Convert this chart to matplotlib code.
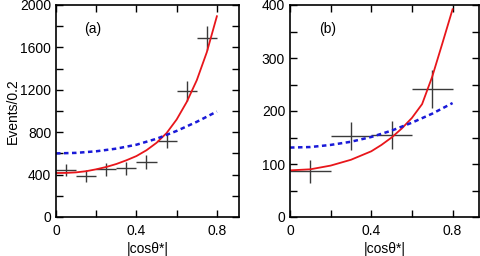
import numpy as np
import matplotlib.pyplot as plt
from matplotlib.ticker import MultipleLocator

plt.rcParams['font.family'] = ['Liberation Sans', 'DejaVu Sans']

# panel (a): data points
a_x = [0.05, 0.15, 0.25, 0.35, 0.45, 0.55, 0.65, 0.75]
a_y = [443, 387, 450, 459, 518, 720, 1188, 1691]
a_yerr = [57, 53, 60, 60, 63, 70, 94, 115]
a_xerr = 0.05
# panel (a): fitted curves
a_red_x = [0.0, 0.05, 0.1, 0.15, 0.2, 0.25, 0.3, 0.35, 0.4, 0.45,
           0.5, 0.55, 0.6, 0.65, 0.7, 0.75, 0.8]
a_red_y = [415, 416, 421, 432, 450, 472, 500, 535, 575, 630,
           700, 792, 920, 1085, 1290, 1555, 1894]
a_blue_x = [0.0, 0.1, 0.2, 0.3, 0.4, 0.5, 0.6, 0.7, 0.8]
a_blue_y = [600, 605, 620, 645, 682, 738, 812, 898, 995]

# panel (b): data points
b_x = [0.1, 0.3, 0.5, 0.7]
b_y = [86, 153, 155, 241]
b_yerr = [21, 27, 27, 36]
b_xerr = 0.1
b_red_x = [0.0, 0.1, 0.2, 0.3, 0.4, 0.45, 0.5, 0.55, 0.6, 0.65, 0.7, 0.75, 0.8]
b_red_y = [88, 90, 97, 108, 124, 136, 150, 167, 187, 213, 265, 328, 392]
b_blue_x = [0.0, 0.1, 0.2, 0.3, 0.4, 0.5, 0.6, 0.7, 0.8]
b_blue_y = [131, 132, 136, 142, 151, 163, 178, 195, 215]

fig = plt.figure(figsize=(4.8, 2.56), dpi=100)
ax1 = fig.add_axes([56/480, 1 - 217/256, 183/480, 212/256])
ax2 = fig.add_axes([290/480, 1 - 217/256, 189/480, 212/256])


def draw(ax, x, y, yerr, xerr, rx, ry, bx, by, tag):
    ax.errorbar(x, y, yerr=yerr, xerr=xerr, fmt='none', ecolor='#3a3a3a',
                elinewidth=1.0, capsize=0)
    ax.plot(rx, ry, color='#e8161b', lw=1.3)
    ax.plot(bx, by, color='#1a1ad8', lw=1.8, ls=(0, (1.8, 1.4)))
    ax.text(0.2, 0.885, tag, transform=ax.transAxes, fontsize=10,
            ha='center', va='center')
    ax.set_xticks([0, 0.4, 0.8])
    ax.set_xticklabels(['0', '0.4', '0.8'])
    ax.xaxis.set_minor_locator(MultipleLocator(0.2))
    ax.tick_params(which='both', direction='in', top=True, right=True,
                   length=5, width=1, labelsize=10)
    ax.tick_params(axis='x', pad=5)
    ax.set_xlabel('|cosθ*|', fontsize=10, labelpad=3)
    for s in ax.spines.values():
        s.set_linewidth(1.2)


draw(ax1, a_x, a_y, a_yerr, a_xerr, a_red_x, a_red_y, a_blue_x, a_blue_y, '(a)')
ax1.set_xlim(0, 0.91)
ax1.set_ylim(0, 2000)
ax1.yaxis.set_major_locator(MultipleLocator(400))
ax1.yaxis.set_minor_locator(MultipleLocator(200))
ax1.set_ylabel('Events/0.2', fontsize=10, labelpad=0)

draw(ax2, b_x, b_y, b_yerr, b_xerr, b_red_x, b_red_y, b_blue_x, b_blue_y, '(b)')
ax2.set_xlim(0, 0.93)
ax2.set_ylim(0, 400)
ax2.yaxis.set_major_locator(MultipleLocator(100))
ax2.yaxis.set_minor_locator(MultipleLocator(50))

fig.savefig('out.png', dpi=100)
